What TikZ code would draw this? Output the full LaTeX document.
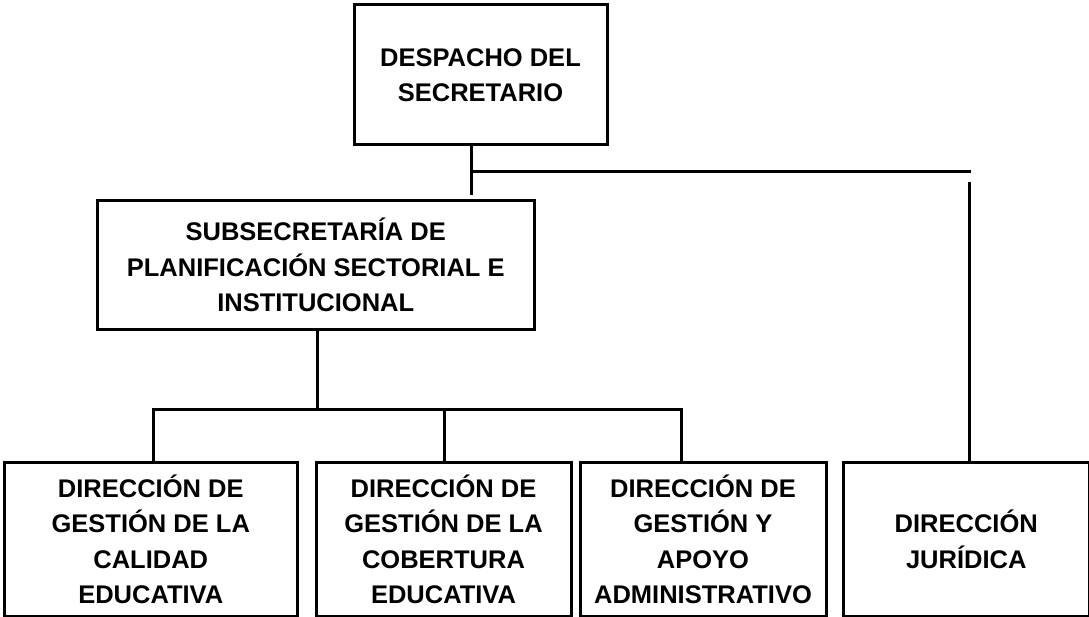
\documentclass[tikz,border=0pt]{standalone}
\usepackage{fontspec}
\setmainfont{Liberation Sans}
\begin{document}
\begin{tikzpicture}[x=1pt,y=-1pt,
  orgbox/.style={draw=black,line width=3pt,inner sep=0pt,align=center,
    font=\bfseries\fontsize{25.5}{35.5}\selectfont},
  conn/.style={draw=black,line width=3pt}]
\useasboundingbox (0,0) rectangle (1089,617);
\node[orgbox,minimum width=253pt,minimum height=140pt] (top) at (480.5,75) {DESPACHO DEL\\SECRETARIO};
\node[orgbox,minimum width=436.5pt,minimum height=128.5pt] (sub) at (315.75,265.25) {SUBSECRETARÍA DE\\PLANIFICACIÓN SECTORIAL E\\INSTITUCIONAL};
\node[orgbox,minimum width=292.5pt,minimum height=154.5pt] (b1) at (150.75,539.25) {DIRECCIÓN DE\\GESTIÓN DE LA\\CALIDAD\\EDUCATIVA};
\node[orgbox,minimum width=255pt,minimum height=154.5pt] (b2) at (443.5,539.25) {DIRECCIÓN DE\\GESTIÓN DE LA\\COBERTURA\\EDUCATIVA};
\node[orgbox,minimum width=246pt,minimum height=154.5pt] (b3) at (703,539.25) {DIRECCIÓN DE\\GESTIÓN Y\\APOYO\\ADMINISTRATIVO};
\node[orgbox,minimum width=245.5pt,minimum height=154.5pt] (b4) at (966.25,539.25) {DIRECCIÓN\\JURÍDICA};
% coordinates of connector routes
\coordinate (v1) at (471,172);
\coordinate (hr) at (971,172);
\coordinate (jt) at (969.5,182);
\coordinate (v2) at (317,409.5);
\coordinate (bl) at (153,409.5);
\coordinate (bm) at (444,409.5);
\coordinate (br) at (681,409.5);
% top to subsecretaria
\draw[conn,shorten >=4pt] (top.south -| v1) -- (sub.north -| v1);
\draw[conn] (v1) -- (hr);
\draw[conn] (jt) -- (jt |- b4.north);
% subsecretaria to direcciones
\draw[conn] (sub.south -| v2) -- (v2);
\draw[conn] (bl |- b1.north) -- (bl) -- (br) -- (br |- b3.north);
\draw[conn] (bm) -- (bm |- b2.north);
\end{tikzpicture}
\end{document}
